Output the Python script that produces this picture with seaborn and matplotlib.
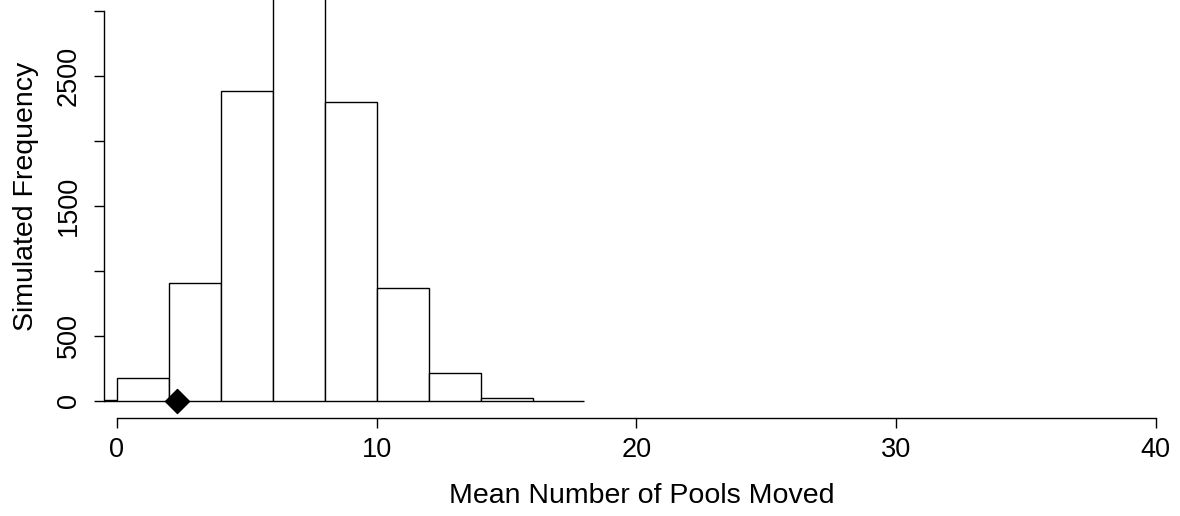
import numpy as np
import matplotlib
matplotlib.use("Agg")
import matplotlib.pyplot as plt
import seaborn as sns

# histogram bins (left edges) and simulated counts
bin_edges = [-2, 0, 2, 4, 6, 8, 10, 12, 14, 16, 18]
counts = [8, 180, 905, 2385, 3350, 2300, 870, 215, 25, 0]
observed_mean = 2.3

x_ticks = [0, 10, 20, 30, 40]
y_ticks = [0, 500, 1000, 1500, 2000, 2500, 3000]
y_tick_labels = ["0", "500", "", "1500", "", "2500", ""]

sns.set_style("white")
plt.rcParams['font.family'] = ['Liberation Sans', 'DejaVu Sans']

centers = [(a + b) / 2 for a, b in zip(bin_edges[:-1], bin_edges[1:])]

fig = plt.figure(figsize=(11.8, 5.16), dpi=100)
ax = fig.add_axes([104 / 1180, 1 - 418 / 516, (1180 - 104) / 1180, 418 / 516])

sns.histplot(x=centers, weights=counts, bins=bin_edges, stat='count',
             color='white', edgecolor='black', linewidth=1.0, alpha=1, ax=ax)

ax.scatter([observed_mean], [0], marker='D', s=150, color='black',
           clip_on=False, zorder=5)

ax.set_xlim(-0.5, (1180 - 117) / 25.97)
ax.set_ylim(-131, 3085)

for s in ['top', 'right']:
    ax.spines[s].set_visible(False)
ax.spines['bottom'].set_bounds(0, 40)
ax.spines['left'].set_bounds(0, 3000)
for s in ['bottom', 'left']:
    ax.spines[s].set_color('black')
    ax.spines[s].set_linewidth(1.0)

ax.set_xticks(x_ticks)
ax.set_yticks(y_ticks)
ax.set_yticklabels(y_tick_labels, rotation=90, va='center')
ax.tick_params(axis='both', direction='out', length=7, width=1.0,
               colors='black', labelsize=19.5, left=True, bottom=True)
ax.tick_params(axis='x', pad=7)
ax.tick_params(axis='y', pad=9)

ax.set_xlabel("Mean Number of Pools Moved", fontsize=20.5, labelpad=14,
              color='black')
ax.set_ylabel("Simulated Frequency", fontsize=20.5, labelpad=12,
              color='black')
# R centres the label on a plot region that runs past the top of the image
ax.yaxis.label.set_y(0.53)

fig.savefig("out.png", dpi=100)
